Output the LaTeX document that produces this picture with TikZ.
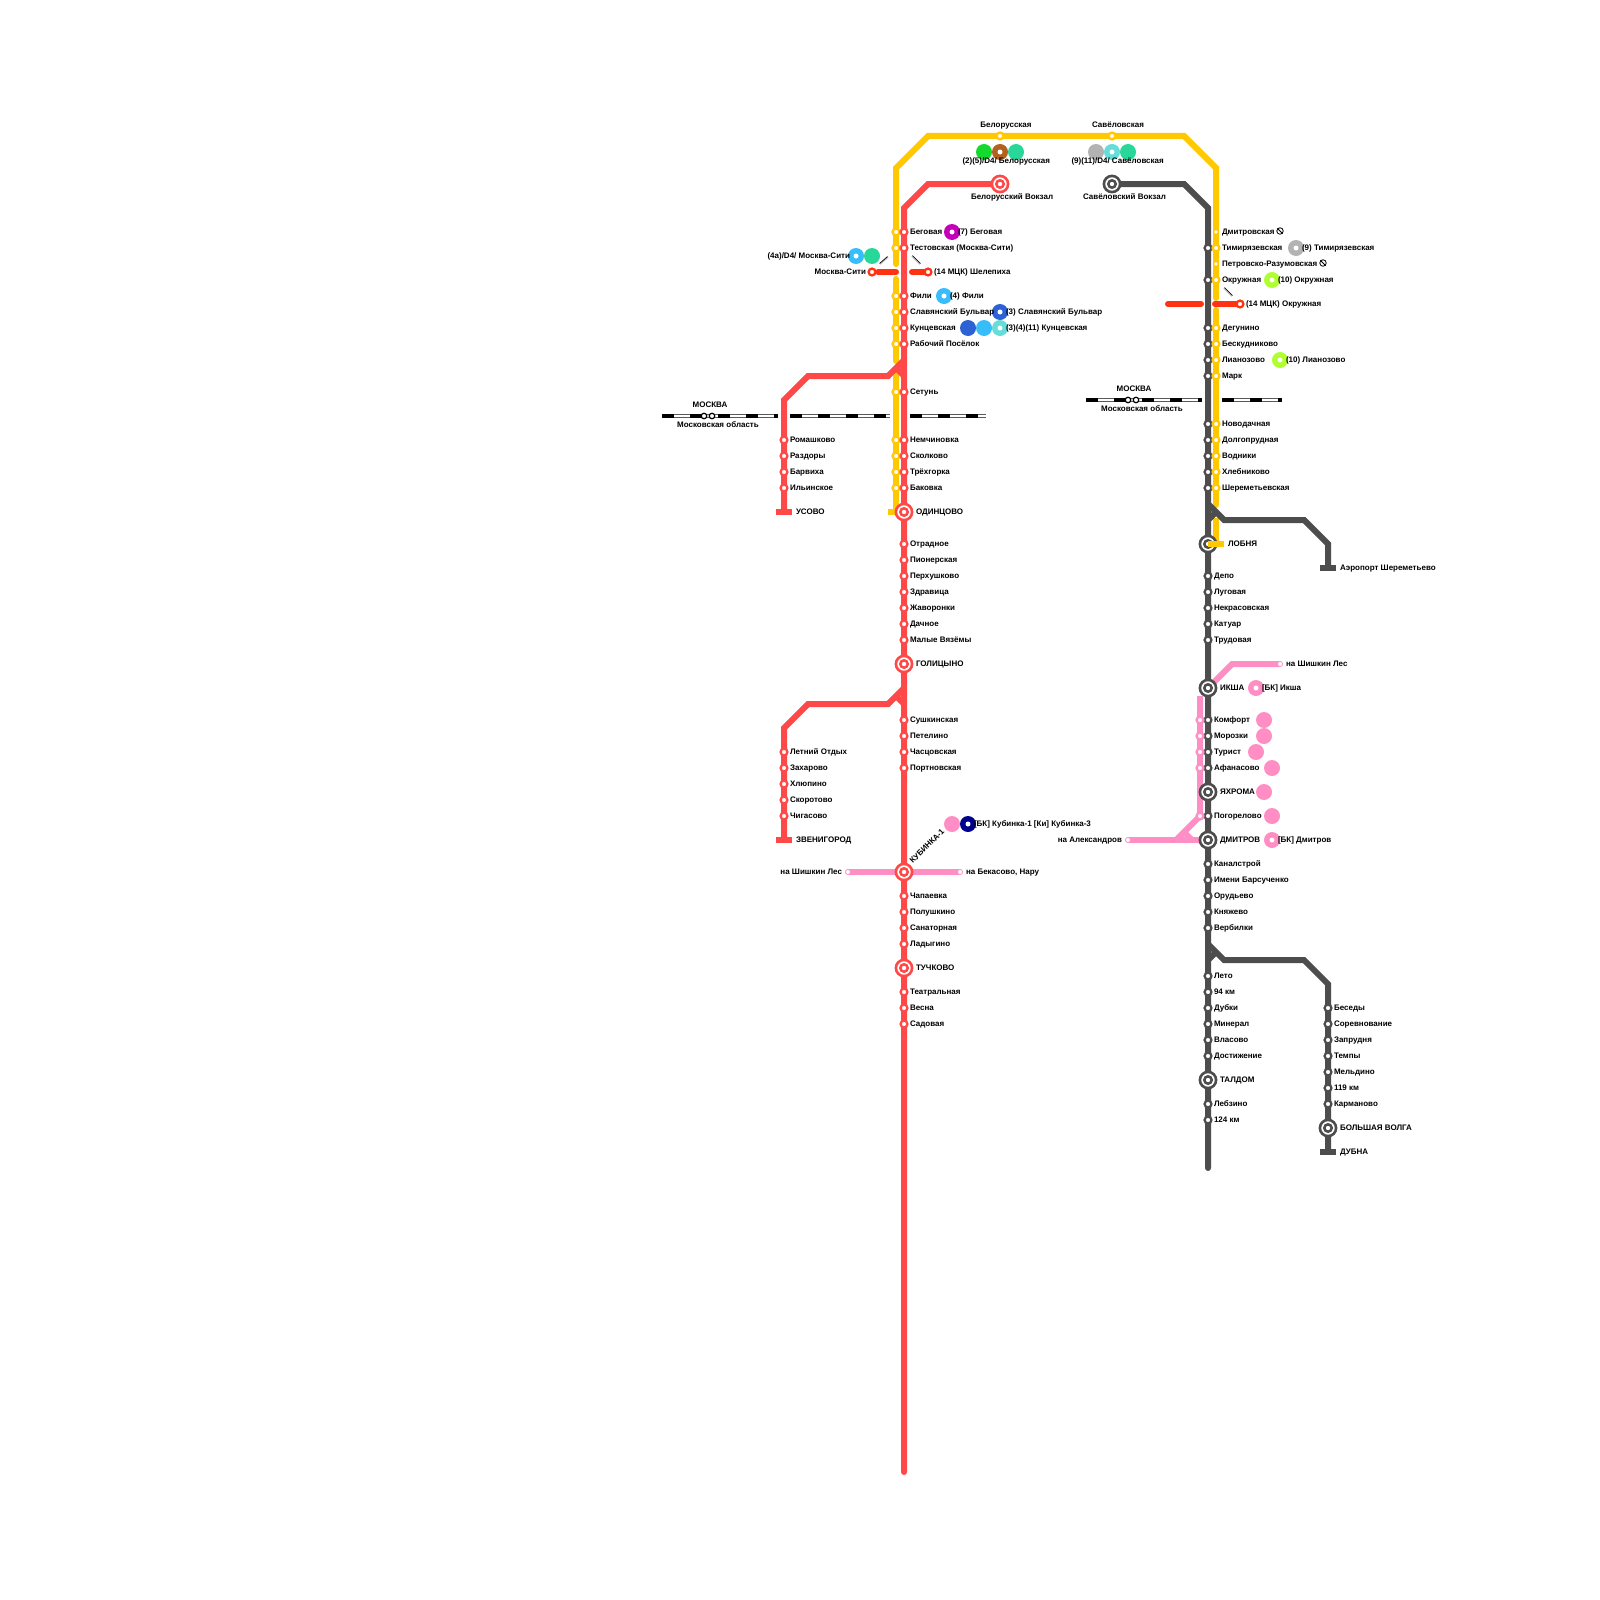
\documentclass[tikz,border=0pt]{standalone}
\usepackage{fontspec}
\setmainfont{Liberation Sans}
\definecolor{cred}{HTML}{FF4848}
\definecolor{cyel}{HTML}{FFC800}
\definecolor{cgry}{HTML}{4D4D4D}
\definecolor{cpnk}{HTML}{FF8EC4}
\definecolor{cmck}{HTML}{FF3311}
\definecolor{mgreen}{HTML}{14D92F}
\definecolor{mbrown}{HTML}{B2611E}
\definecolor{mteal}{HTML}{28D79A}
\definecolor{mgray}{HTML}{B3B3B3}
\definecolor{mcyan}{HTML}{66DDD9}
\definecolor{mblue}{HTML}{38BDFB}
\definecolor{mdark}{HTML}{2D62D4}
\definecolor{mmag}{HTML}{C400B8}
\definecolor{mlime}{HTML}{B0FF30}
\definecolor{mnavy}{HTML}{00008F}
\tikzset{
  rail/.style={line width=6pt,line join=miter},
  lbl/.style={inner sep=0pt,outer sep=0pt,font=\fontsize{8pt}{8pt}\selectfont\bfseries,text=black},
  stn/.style={circle,line width=2.3pt,fill=white,minimum size=6.8pt,inner sep=0pt,outer sep=0pt},
  dotn/.style={circle,fill=white,minimum size=5pt,inner sep=0pt,outer sep=0pt},
  mtr/.style={circle,minimum size=16pt,inner sep=0pt,outer sep=0pt},
  bigo/.style={circle,line width=2.6pt,fill=white,minimum size=16.2pt,inner sep=0pt,outer sep=0pt},
  bigi/.style={circle,line width=2.5pt,fill=white,minimum size=7.4pt,inner sep=0pt,outer sep=0pt},
}
\newcommand\lbW[3]{\node[lbl,anchor=base west] (lw#1x#2) at (#1,#2+2.5) {#3};}
\newcommand\lbE[3]{\node[lbl,anchor=base east] (le#1x#2) at (#1,#2+2.5) {#3};}
\newcommand\lbC[3]{\node[lbl,anchor=base] (lc#1x#2) at (#1,#2+2.5) {#3};}
\newcommand\st[3]{\node[stn,draw=#1] (st#1x#2x#3) at (#2,#3) {};}
\newcommand\smalldot[2]{\node[dotn] (sd#1x#2) at (#1,#2) {};}
\newcommand\bigst[3]{\node[bigo,draw=#1] (bo#2x#3) at (#2,#3) {};\node[bigi,draw=#1] (bi#2x#3) at (#2,#3) {};}
\newcommand\metro[3]{\node[mtr,fill=#1] (me#2x#3) at (#2,#3) {};}
\newcommand\metroc[3]{\node[mtr,fill=#1] (me#2x#3) at (#2,#3) {};\node[dotn] (md#2x#3) at (#2,#3) {};}
\newcommand\border[3]{%
  \draw[black!65,line width=3.9pt] (#1,#3) -- (#2,#3);
  \draw[white,line width=2.1pt] (#1,#3) -- (#2,#3);
  \draw[black,line width=4.1pt,dash pattern=on 12pt off 16pt] (#1,#3) -- (#2,#3);}
\newcommand\banned[2]{\node[circle,draw=black,line width=0.8pt,minimum size=6.5pt,inner sep=0pt,fill=white] (nb#1x#2) at (#1,#2) {};
  \draw[black,line width=0.8pt] (nb#1x#2.north west) -- (nb#1x#2.south east);}
\begin{document}
\begin{tikzpicture}[x=1pt,y=-1pt]
\useasboundingbox (0,0) rectangle (1600,1600);
\fill[white] (0,0) rectangle (1600,1600);
% coordinates
\coordinate (ya) at (896,264);\coordinate (yb) at (896,168);\coordinate (yc) at (928,136);\coordinate (yd) at (1184,136);\coordinate (ye) at (1216,168);\coordinate (yf) at (1216,298);
\coordinate (yg) at (896,279);\coordinate (yh) at (896,361);\coordinate (yi) at (896,372);\coordinate (yj) at (896,512);
\coordinate (yk) at (1216,310);\coordinate (yl) at (1216,505);\coordinate (ym) at (1216,518);\coordinate (yn) at (1216,544);
\coordinate (yo) at (888,512);\coordinate (yp) at (904,512);\coordinate (yq) at (1208,544);\coordinate (yr) at (1224,544);
\coordinate (ra) at (1000,184);\coordinate (rb) at (928,184);\coordinate (rc) at (904,208);\coordinate (rd) at (904,1472);
\coordinate (re) at (904,360);\coordinate (rf) at (888,376);\coordinate (rg) at (808,376);\coordinate (rh) at (784,400);\coordinate (ri) at (784,512);
\coordinate (rj) at (904,688);\coordinate (rk) at (888,704);\coordinate (rl) at (808,704);\coordinate (rm) at (784,728);\coordinate (rn) at (784,840);
\coordinate (ro) at (896,368);\coordinate (rp) at (904,376);\coordinate (rq) at (896,696);\coordinate (rr) at (904,704);
\coordinate (ga) at (1112,184);\coordinate (gb) at (1184,184);\coordinate (gc) at (1208,208);\coordinate (gd) at (1208,1168);
\coordinate (ge) at (1208,504);\coordinate (gf) at (1224,520);\coordinate (gg) at (1304,520);\coordinate (gh) at (1328,544);\coordinate (gi) at (1328,568);
\coordinate (gj) at (1208,944);\coordinate (gk) at (1224,960);\coordinate (gl) at (1304,960);\coordinate (gm) at (1328,984);\coordinate (gn) at (1328,1152);
\coordinate (go) at (1216,512);\coordinate (gp) at (1208,520);\coordinate (gq) at (1216,952);\coordinate (gr) at (1208,960);
\coordinate (pa) at (1208,688);\coordinate (pb) at (1232,664);\coordinate (pc) at (1280,664);
\coordinate (pd) at (1200,696);\coordinate (pe) at (1200,816);\coordinate (pf) at (1176,840);
\coordinate (pg) at (1128,840);\coordinate (ph) at (1208,840);\coordinate (pi) at (1184,832);\coordinate (pj) at (1192,840);
\coordinate (pk) at (848,872);\coordinate (pl) at (960,872);
% borders
\border{662}{778}{416}
\border{790}{890}{416}
\border{910}{986}{416}
\border{1086}{1202}{400}
\border{1222}{1282}{400}
\foreach \x in {704,712}{\node[stn,draw=black,line width=1.2pt,minimum size=5.5pt] (bl\x) at (\x,416) {};}
\foreach \x in {1128,1136}{\node[stn,draw=black,line width=1.2pt,minimum size=5.5pt] (br\x) at (\x,400) {};}
% pink
\draw[rail,cpnk,line cap=round] (pa) -- (pb) -- (pc);
\draw[rail,cpnk] (pd) -- (pe) -- (pf);
\draw[rail,cpnk,line cap=round] (pg) -- (ph);
\draw[rail,cpnk] (pi) -- (pj);
\draw[rail,cpnk,line cap=round] (pk) -- (pl);
% yellow
\draw[rail,cyel,line cap=round] (ya) -- (yb) -- (yc) -- (yd) -- (ye) -- (yf);
\draw[rail,cyel,line cap=round] (yg) -- (yh);
\draw[rail,cyel] (yi) -- (yj);
\draw[rail,cyel] (yo) -- (yp);
\draw[rail,cyel,line cap=round] (yk) -- (yl);
% red
\draw[rail,cred,line cap=round] (ra) -- (rb) -- (rc) -- (rd);
\draw[rail,cred] (re) -- (rf) -- (rg) -- (rh) -- (ri);
\draw[rail,cred] (ro) -- (rp);
\draw[rail,cred] (rj) -- (rk) -- (rl) -- (rm) -- (rn);
\draw[rail,cred] (rq) -- (rr);
\draw[rail,cred] (776,512) -- (ri) -- (792,512);
\draw[rail,cred] (776,840) -- (rn) -- (792,840);
% gray
\draw[rail,cgry,line cap=round] (ga) -- (gb) -- (gc) -- (gd);
\draw[rail,cyel] (ym) -- (yn);
\draw[rail,cgry] (ge) -- (gf) -- (gg) -- (gh) -- (gi);
\draw[rail,cgry] (go) -- (gp);
\draw[rail,cgry] (gj) -- (gk) -- (gl) -- (gm) -- (gn);
\draw[rail,cgry] (gq) -- (gr);
\draw[rail,cgry] (1320,568) -- (gi) -- (1336,568);
\draw[rail,cgry] (1320,1152) -- (gn) -- (1336,1152);
% MCK
\coordinate (ma) at (878,272);\coordinate (mb) at (896,272);\coordinate (mc) at (912,272);\coordinate (md) at (928,272);
\coordinate (me) at (1168,304);\coordinate (mf) at (1201,304);\coordinate (mg) at (1215,304);\coordinate (mh) at (1240,304);
\draw[rail,cmck,line cap=round] (ma) -- (mb);
\draw[rail,cmck,line cap=round] (mc) -- (md);
\draw[rail,cmck,line cap=round] (me) -- (mf);
\draw[rail,cmck,line cap=round] (mg) -- (mh);
\st{cmck}{872}{272}\st{cmck}{928}{272}\st{cmck}{1240}{304}
% transfer ticks
\draw[line width=1.5pt,gray!60] (880,264) -- (888,257);\draw[line width=0.6pt,black] (879.5,263.5) -- (887.5,256.5);
\draw[line width=1.5pt,gray!60] (912,256) -- (920,264);\draw[line width=0.6pt,black] (912.5,255.5) -- (920.5,263.5);
\draw[line width=1.5pt,gray!60] (1224,288) -- (1232,296);\draw[line width=0.6pt,black] (1224.5,287.5) -- (1232.5,295.5);
% stations
\foreach \y in {232,248,296,312,328,344,392,440,456,472,488}{\st{cyel}{896}{\y}}
\foreach \y in {232,248,296,312,328,344,392,440,456,472,488,544,560,576,592,608,624,640,720,736,752,768,896,912,928,944,992,1008,1024}{\st{cred}{904}{\y}}
\foreach \y in {440,456,472,488,752,768,784,800,816}{\st{cred}{784}{\y}}
\foreach \y in {248,280,328,344,360,376,424,440,456,472,488,576,592,608,624,640,720,736,752,768,816,864,880,896,912,928,976,992,1008,1024,1040,1056,1104,1120}{\st{cgry}{1208}{\y}}
\foreach \y in {248,280,328,344,360,376,424,440,456,472,488}{\st{cyel}{1216}{\y}}
\node[dotn,minimum size=3.6pt] (sdA) at (1216,232) {};\node[dotn,minimum size=3.6pt] (sdB) at (1216,264) {};
\foreach \y in {1008,1024,1040,1056,1072,1088,1104}{\st{cgry}{1328}{\y}}
\foreach \y in {720,736,752,768,816}{\st{cpnk}{1200}{\y}}
\st{cyel}{1000}{136}\st{cyel}{1112}{136}
\foreach \x/\y in {1280/664,1128/840,848/872,960/872}{\node[dotn,minimum size=4pt] (sd\x) at (\x,\y) {};}
% big
\bigst{cred}{1000}{184}\bigst{cred}{904}{512}\bigst{cred}{904}{664}\bigst{cred}{904}{872}\bigst{cred}{904}{968}
\bigst{cgry}{1112}{184}\bigst{cgry}{1208}{544}\bigst{cgry}{1208}{688}\bigst{cgry}{1208}{792}\bigst{cgry}{1208}{840}\bigst{cgry}{1208}{1080}\bigst{cgry}{1328}{1128}
\draw[rail,cyel] (yq) -- (yr);
% metro
\metro{mgreen}{984}{152}\metroc{mbrown}{1000}{152}\metro{mteal}{1016}{152}
\metro{mgray}{1096}{152}\metroc{mcyan}{1112}{152}\metro{mteal}{1128}{152}
\metroc{mblue}{856}{256}\metro{mteal}{872}{256}
\metroc{mmag}{952}{232}\metroc{mblue}{944}{296}\metroc{mdark}{1000}{312}
\metro{mdark}{968}{328}\metro{mblue}{984}{328}\metroc{mcyan}{1000}{328}
\metroc{mgray}{1296}{248}\metroc{mlime}{1272}{280}\metroc{mlime}{1280}{360}
\metroc{cpnk}{1256}{688}\metro{cpnk}{1264}{720}\metro{cpnk}{1264}{736}\metro{cpnk}{1256}{752}\metro{cpnk}{1272}{768}\metro{cpnk}{1264}{792}\metro{cpnk}{1272}{816}\metroc{cpnk}{1272}{840}
\metro{cpnk}{952}{824}\metroc{mnavy}{968}{824}
\banned{1280}{231}\banned{1323}{263}
% labels top
\lbC{1006}{125}{Белорусская}
\lbC{1118}{125}{Савёловская}
\lbW{962.5}{161}{(2)(5)/D4/ Белорусская}
\lbW{1071.5}{161}{(9)(11)/D4/ Савёловская}
\lbW{971}{197}{Белорусский Вокзал}
\lbW{1083}{197}{Савёловский Вокзал}
\foreach \y/\t in {231.5/Беговая,247.5/{Тестовская (Москва-Сити)},295.5/Фили,311.5/Славянский Бульвар,327.5/Кунцевская,343.5/Рабочий Посёлок,391.5/Сетунь,439.5/Немчиновка,455.5/Сколково,471.5/Трёхгорка,487.5/Баковка,543.5/Отрадное,559.5/Пионерская,575.5/Перхушково,591.5/Здравица,607.5/Жаворонки,623.5/Дачное,639.5/Малые Вязёмы,719.5/Сушкинская,735.5/Петелино,751.5/Часцовская,767.5/Портновская,895.5/Чапаевка,911.5/Полушкино,927.5/Санаторная,943.5/Ладыгино,991.5/Театральная,1007.5/Весна,1023.5/Садовая}{\lbW{910}{\y}{\t}}
\lbW{958}{231.5}{(7) Беговая}
\lbW{950}{295.5}{(4) Фили}
\lbW{1006}{311.5}{(3) Славянский Бульвар}
\lbW{1006}{327.5}{(3)(4)(11) Кунцевская}
\lbW{934}{271.5}{(14 МЦК) Шелепиха}
\lbE{866}{271.5}{Москва-Сити}
\lbE{850}{255.5}{(4а)/D4/ Москва-Сити}
\foreach \y/\t in {231.5/Дмитровская,247.5/Тимирязевская,263.5/Петровско-Разумовская,279.5/Окружная,327.5/Дегунино,343.5/Бескудниково,359.5/Лианозово,375.5/Марк,423.5/Новодачная,439.5/Долгопрудная,455.5/Водники,471.5/Хлебниково,487.5/Шереметьевская}{\lbW{1222}{\y}{\t}}
\lbW{1302}{247.5}{(9) Тимирязевская}
\lbW{1278}{279.5}{(10) Окружная}
\lbW{1286}{359.5}{(10) Лианозово}
\lbW{1246}{303.5}{(14 МЦК) Окружная}
\lbW{1228}{543.5}{ЛОБНЯ}
\lbW{1340}{567.5}{Аэропорт Шереметьево}
\foreach \y/\t in {575.5/Депо,591.5/Луговая,607.5/Некрасовская,623.5/Катуар,639.5/Трудовая,719.5/Комфорт,735.5/Морозки,751.5/Турист,767.5/Афанасово,815.5/Погорелово,863.5/Каналстрой,879.5/Имени Барсученко,895.5/Орудьево,911.5/Княжево,927.5/Вербилки,975.5/Лето,991.5/94 км,1007.5/Дубки,1023.5/Минерал,1039.5/Власово,1055.5/Достижение,1103.5/Лебзино,1119.5/124 км}{\lbW{1214}{\y}{\t}}
\foreach \y/\t in {1007.5/Беседы,1023.5/Соревнование,1039.5/Запрудня,1055.5/Темпы,1071.5/Мельдино,1087.5/119 км,1103.5/Карманово}{\lbW{1334}{\y}{\t}}
\lbW{1286}{663.5}{на Шишкин Лес}
\lbW{1220}{687.5}{ИКША}
\lbW{1262}{687.5}{[БК] Икша}
\lbW{1220}{791.5}{ЯХРОМА}
\lbW{1220}{839.5}{ДМИТРОВ}
\lbW{1278}{839.5}{[БК] Дмитров}
\lbE{1122}{839.5}{на Александров}
\lbW{1220}{1079.5}{ТАЛДОМ}
\lbW{1340}{1127.5}{БОЛЬШАЯ ВОЛГА}
\lbW{1340}{1151.5}{ДУБНА}
\lbC{710}{405}{МОСКВА}
\lbC{718}{425}{Московская область}
\lbC{1134}{389}{МОСКВА}
\lbC{1142}{409}{Московская область}
\foreach \y/\t in {439.5/Ромашково,455.5/Раздоры,471.5/Барвиха,487.5/Ильинское,751.5/Летний Отдых,767.5/Захарово,783.5/Хлюпино,799.5/Скоротово,815.5/Чигасово}{\lbW{790}{\y}{\t}}
\lbW{796}{511.5}{УСОВО}
\lbW{796}{839.5}{ЗВЕНИГОРОД}
\lbW{916}{511.5}{ОДИНЦОВО}
\lbW{916}{663.5}{ГОЛИЦЫНО}
\lbW{916}{967.5}{ТУЧКОВО}
\lbE{842}{871.5}{на Шишкин Лес}
\lbW{966}{871.5}{на Бекасово, Нару}
\lbW{974}{823.5}{[БК] Кубинка-1 [Ки] Кубинка-3}
\node[lbl,rotate=45] (kub) at (927,846) {КУБИНКА-1};
\end{tikzpicture}
\end{document}
